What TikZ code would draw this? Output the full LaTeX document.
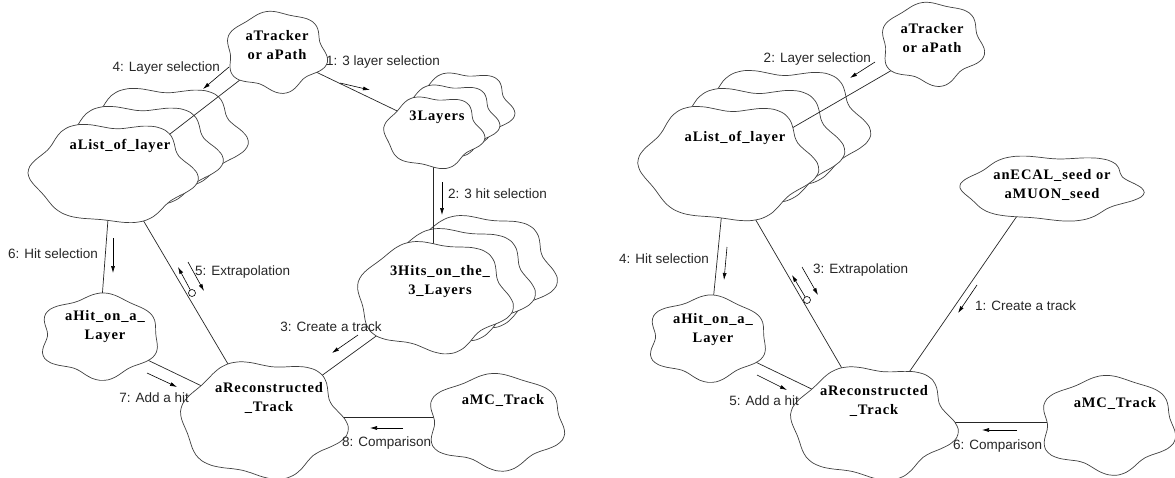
\documentclass[tikz,border=0pt]{standalone}
\usepackage{fontspec}
\setmainfont{Liberation Serif}
\newfontfamily\labfont{Liberation Sans}
\newfontfamily\cloudfont[LetterSpace=6]{Liberation Serif}
\usetikzlibrary{shapes.geometric,arrows.meta,calc}
\pgfdeclarelayer{back}
\pgfdeclarelayer{front}
\pgfsetlayers{back,front,main}
% #1 centre (coordinate), #2 rx, #3 ry, #4 phase
\newcommand{\booch}[4]{%
  \filldraw[cloudline, shift={#1}] plot[smooth cycle, samples=48, domain=0:352.5, variable=\t]
   ({#2*cos(\t)*(1+0.065*cos(6*(\t-#4))+0.035*sin(5*\t+2*#4))},
    {#3*sin(\t)*(1+0.065*cos(6*(\t-#4))+0.035*sin(5*\t+2*#4))});}
\tikzset{
  cloudline/.style={draw=black!75, line width=0.7pt, fill=white},
  anc/.style={ellipse, inner sep=0pt, outer sep=0pt},
  ctext/.style={font=\cloudfont\bfseries\fontsize{14.5}{19}\selectfont, align=center, inner sep=0pt},
  lbl/.style={font=\labfont\fontsize{13.5}{15}\selectfont, inner sep=0pt, text=black!85},
  conn/.style={draw=black!85, line width=0.7pt},
  msg/.style={-{Latex[length=7pt,width=4pt]}, line width=0.6pt, black},
}
\begin{document}
\begin{tikzpicture}[x=1pt, y=-1pt]
\useasboundingbox (0,0) rectangle (1175,477);
% ---------- anchor nodes (left) ----------
\node[anc, minimum width=84, minimum height=67]  (trL)   at (276,51)  {};
\node[anc, minimum width=83, minimum height=60]  (layL)  at (433,132) {};
\node[anc, minimum width=138, minimum height=84] (lstL)  at (112,173) {};
\node[anc, minimum width=129, minimum height=93] (hitsL) at (433,296) {};
\node[anc, minimum width=100, minimum height=70] (hitL)  at (100,336) {};
\node[anc, minimum width=138, minimum height=98] (recL)  at (262,419) {};
\node[anc, minimum width=115, minimum height=79] (mcL)   at (496,421) {};
% ---------- anchor nodes (right) ----------
\node[anc, minimum width=86, minimum height=69]  (trR)   at (932,43)  {};
\node[anc, minimum width=146, minimum height=98] (lstR)  at (727,163) {};
\node[anc, minimum width=100, minimum height=70] (hitR)  at (708,338) {};
\node[anc, minimum width=138, minimum height=95] (recR)  at (872,422) {};
\node[anc, minimum width=150, minimum height=55] (ecal)  at (1050,188) {};
\node[anc, minimum width=114, minimum height=81] (mcR)   at (1108,424) {};
% ---------- cloud texts ----------
\node[ctext] (trLt)   at (277,45)  {aTracker\\or aPath};
\node[ctext] (layLt)  at (437,117) {3Layers};
\node[ctext] (lstLt)  at (120,146) {aList\_of\_layer};
\node[ctext] (hitsLt) at (440,282) {3Hits\_on\_the\_\\3\_Layers};
\node[ctext] (hitLt)  at (105,327) {aHit\_on\_a\_\\Layer};
\node[ctext] (recLt)  at (269,398) {aReconstructed\\\_Track};
\node[ctext] (mcLt)   at (503,400) {aMC\_Track};
\node[ctext] (trRt)   at (932,38)  {aTracker\\or aPath};
\node[ctext] (lstRt)  at (735,138) {aList\_of\_layer};
\node[ctext] (hitRt)  at (713,330) {aHit\_on\_a\_\\Layer};
\node[ctext] (recRt)  at (874,401) {aReconstructed\\\_Track};
\node[ctext] (ecalt)  at (1052,185) {anECAL\_seed or\\aMUON\_seed};
\node[ctext] (mcRt)   at (1115,403) {aMC\_Track};
% ---------- back copies and connectors ----------
\begin{pgfonlayer}{back}
\booch{($(layL)+(30,-24)$)}{48}{35}{10}
\booch{($(layL)+(15,-12)$)}{48}{35}{10}
\booch{($(lstL)+(50,-36)$)}{80}{49}{5}
\booch{($(lstL)+(25,-18)$)}{80}{49}{5}
\booch{($(hitsL)+(44,-26)$)}{75}{54}{15}
\booch{($(hitsL)+(22,-13)$)}{75}{54}{15}
\booch{($(lstR)+(52,-36)$)}{85}{57}{5}
\booch{($(lstR)+(26,-18)$)}{85}{57}{5}
% connectors, left
\draw[conn] (trL.-28) -- (layL.149);
\draw[conn] (trL.219) -- (lstL.33);
\draw[conn] (layL.south) -- (layL.south |- hitsL.north);
\draw[conn] (lstL.-95) -- (hitL.87);
\draw[conn] (lstL.-56) -- (recL.122);
\draw[conn] (hitsL.215) -- (recL.36);
\draw[conn] (hitL.-27) -- (recL.151);
\draw[conn] (mcL.176) -- (recL.east |- mcL.176);
% connectors, right
\draw[conn] (trR.215) -- (lstR.28);
\draw[conn] (lstR.-96) -- (hitR.82);
\draw[conn] (lstR.-64) -- (recR.119);
\draw[conn] (hitR.-27) -- (recR.151);
\draw[conn] (ecal.-141) -- (recR.53);
\draw[conn] (mcR.178) -- (recR.east |- mcR.178);
\end{pgfonlayer}
% ---------- front clouds ----------
\begin{pgfonlayer}{front}
\booch{(trL)}{49}{39}{20}
\booch{(layL)}{48}{35}{10}
\booch{(lstL)}{80}{49}{5}
\booch{(hitsL)}{75}{54}{15}
\booch{(hitL)}{58}{41}{30}
\booch{(recL)}{80}{57}{12}
\booch{(mcL)}{67}{46}{25}
\booch{(trR)}{50}{40}{20}
\booch{(lstR)}{85}{57}{5}
\booch{(hitR)}{58}{41}{30}
\booch{(recR)}{80}{55}{12}
\booch{(ecal)}{87}{32}{8}
\booch{(mcR)}{66}{47}{25}
\end{pgfonlayer}
% ---------- messages, left ----------
\draw[msg] (340,83) -- (370,90);
\node[lbl, anchor=west] (m1L) at (326,62) {1: 3 layer selection};
\draw[msg] (229,67) -- (203,89);
\node[lbl, anchor=east] (m4L) at (220,68) {4: Layer selection};
\draw[msg] (442,182) -- (442,215);
\node[lbl, anchor=west] (m2L) at (448,194) {2: 3 hit selection};
\draw[msg] (113,238) -- (113,273);
\node[lbl, anchor=east] (m6L) at (98,254) {6: Hit selection};
\draw[msg] (192,293) -- (178,267);
\draw[line width=0.6pt, fill=white] (192,293) circle[radius=3.5pt];
\draw[msg] (188,262) -- (204,291);
\node[lbl, anchor=west] (m5L) at (195,272) {5: Extrapolation};
\draw[msg] (358,335) -- (332,353);
\node[lbl] (m3L) at (331,327) {3: Create a track};
\draw[msg] (147,373) -- (177,387);
\node[lbl, anchor=east] (m7L) at (189,398) {7: Add a hit};
\draw[msg] (403,428) -- (370,428);
\node[lbl, anchor=west] (m8L) at (342,443) {8: Comparison};
% ---------- messages, right ----------
\draw[msg] (875,62) -- (850,78);
\node[lbl, anchor=east] (m2R) at (871,59) {2: Layer selection};
\draw[msg] (727,247) -- (724,280);
\node[lbl, anchor=east] (m4R) at (709,259) {4: Hit selection};
\draw[msg] (807,300) -- (792,275);
\draw[line width=0.6pt, fill=white] (807,300) circle[radius=3.5pt];
\draw[msg] (802,267) -- (818,295);
\node[lbl, anchor=west] (m3R) at (813,270) {3: Extrapolation};
\draw[msg] (757,375) -- (787,390);
\node[lbl, anchor=east] (m5R) at (799,401) {5: Add a hit};
\draw[msg] (977,285) -- (958,313);
\node[lbl, anchor=west] (m1R) at (975,306) {1: Create a track};
\draw[msg] (1017,430) -- (982,430);
\node[lbl, anchor=west] (m6R) at (953,446) {6: Comparison};
\end{tikzpicture}
\end{document}
